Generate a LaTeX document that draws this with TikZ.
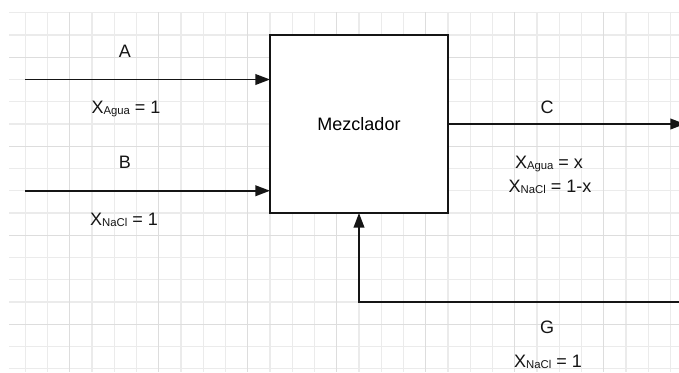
\documentclass[tikz,border=0pt]{standalone}
\usepackage{fontspec}
\setmainfont{Liberation Sans}
\usetikzlibrary{arrows.meta,positioning,calc}
\definecolor{gridminor}{HTML}{EBEBEB}
\definecolor{gridmajor}{HTML}{DDDDDD}
\definecolor{flowblack}{HTML}{151515}
\newcommand{\lowsub}[1]{\raisebox{-1pt}{\fontsize{8.5}{8.5}\selectfont #1}}

\begin{document}
\begin{tikzpicture}[
    x=0.75pt,y=-0.75pt,
    font=\fontsize{13.5}{15}\selectfont,
    unit/.style={draw=flowblack,line width=1.2pt,fill=white,minimum width=133.5pt,minimum height=133.5pt,inner sep=0pt,outer sep=0pt},
    lbl/.style={anchor=base,inner sep=0pt,text=flowblack},
    flow/.style={-{Triangle[length=11pt,width=8pt]},line width=1.3pt,draw=flowblack}
  ]
    \useasboundingbox (0,0) rectangle (679,372);
    \fill[white] (0,0) rectangle (679,372);
    \foreach \i in {0,...,29}
      \draw[gridminor,line width=0.8pt] (25.25+22.25*\i,12) -- (25.25+22.25*\i,372);
    \foreach \j in {0,...,16}
      \draw[gridminor,line width=0.8pt] (9,12.75+22.25*\j) -- (679,12.75+22.25*\j);
    \foreach \i in {0,...,6}
      \draw[gridmajor,line width=0.8pt] (69.75+89*\i,12) -- (69.75+89*\i,372);
    \foreach \j in {0,...,3}
      \draw[gridmajor,line width=0.8pt] (9,57.25+89*\j) -- (679,57.25+89*\j);
    \node[unit] (mix) at (359,124) {Mezclador};
    \coordinate (ain) at (25,79.5);
    \coordinate (bin) at (25,190.75);
    \coordinate (cout) at (685,124);
    \coordinate (gin) at (679,302);
    \draw[flow] (ain) -- (ain -| mix.west);
    \draw[flow] (bin) -- (bin -| mix.west);
    \draw[flow] (mix.east) -- (cout);
    \draw[flow] (gin) -| (mix.south);
    \node[lbl] (la) at (125,57.5) {A};
    \node[lbl] (xa) at (126,113) {X\lowsub{Agua} = 1};
    \node[lbl] (lb) at (125,168) {B};
    \node[lbl] (xb) at (124,225) {X\lowsub{NaCl} = 1};
    \node[lbl] (lc) at (547,113) {C};
    \node[lbl] (xc1) at (549,168) {X\lowsub{Agua} = x};
    \node[lbl] (xc2) at (550,192) {X\lowsub{NaCl} = 1-x};
    \node[lbl] (lg) at (547,333) {G};
    \node[lbl] (xg) at (548,367) {X\lowsub{NaCl} = 1};
  \end{tikzpicture}
\end{document}
